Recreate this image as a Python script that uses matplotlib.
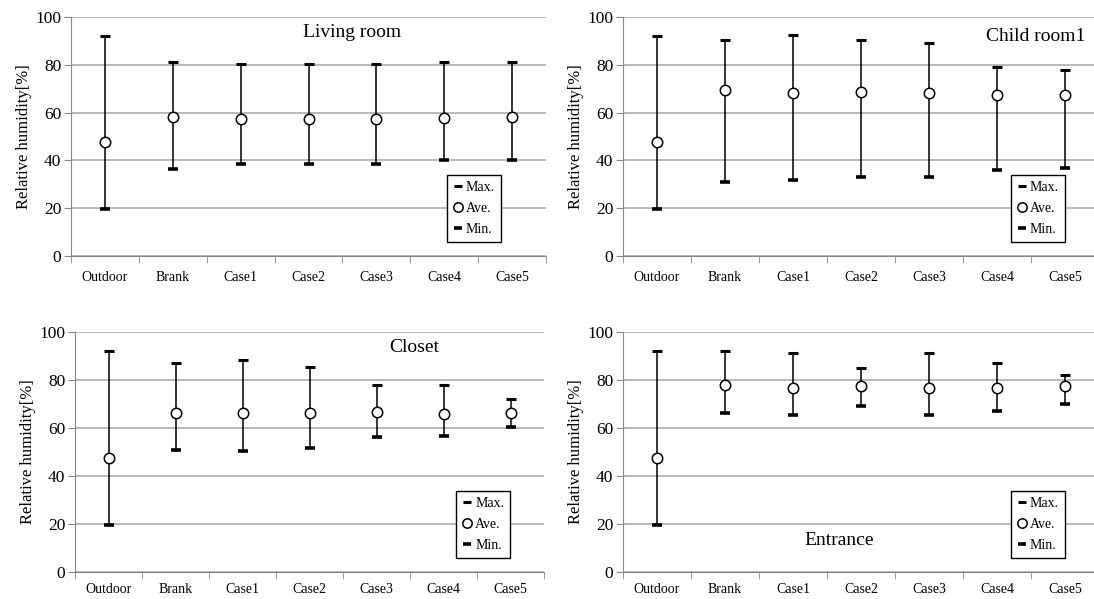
import matplotlib
matplotlib.use("Agg")
import matplotlib.pyplot as plt

plt.rcParams['font.family'] = ['Liberation Serif', 'DejaVu Serif']

cats = ["Outdoor", "Brank", "Case1", "Case2", "Case3", "Case4", "Case5"]

# Living room
lr_max = [92.0, 81.0, 80.5, 80.5, 80.5, 81.0, 81.0]
lr_ave = [47.5, 58.0, 57.2, 57.2, 57.2, 57.7, 58.0]
lr_min = [19.5, 36.3, 38.4, 38.4, 38.4, 40.1, 40.1]

# Child room1
cr_max = [92.0, 90.5, 92.5, 90.5, 89.2, 78.9, 77.7]
cr_ave = [47.5, 69.5, 68.1, 68.6, 68.1, 67.2, 67.5]
cr_min = [19.5, 30.8, 31.9, 32.9, 33.1, 36.0, 37.0]

# Closet
cl_max = [92.0, 87.0, 88.3, 85.6, 77.8, 77.8, 72.0]
cl_ave = [47.5, 66.4, 66.2, 66.4, 66.8, 65.8, 66.2]
cl_min = [19.5, 50.9, 50.5, 51.7, 56.3, 56.8, 60.3]

# Entrance
en_max = [92.0, 92.0, 91.2, 84.8, 91.2, 87.1, 82.0]
en_ave = [47.3, 78.0, 76.8, 77.7, 76.8, 76.6, 77.6]
en_min = [19.5, 66.1, 65.4, 69.1, 65.4, 66.9, 70.1]

W, H = 1094, 599
fig = plt.figure(figsize=(W / 100, H / 100), dpi=100)


def px_axes(l, r, t, b):
    return fig.add_axes([l / W, 1 - b / H, (r - l) / W, (b - t) / H])


def panel(ax, mx, av, mn, title, tpos, leg_x, xpad):
    x = list(range(len(cats)))
    ax.vlines(x, mn, mx, color='black', lw=1.1, zorder=3)
    ax.plot(x, mx, ls='none', marker='_', ms=7, mew=2.2, color='black', label='Max.', zorder=4)
    ax.plot(x, av, ls='none', marker='o', ms=7.5, mew=1.1, mfc='white', mec='black', label='Ave.', zorder=5)
    ax.plot(x, mn, ls='none', marker='_', ms=7, mew=2.6, color='black', label='Min.', zorder=4)
    ax.set_xlim(-0.5, len(cats) - 0.5)
    ax.set_ylim(0, 100)
    ax.set_yticks(range(0, 101, 20))
    ax.set_xticks(x)
    ax.set_xticklabels(cats, fontsize=10)
    ax.set_xticks([i - 0.5 for i in range(len(cats) + 1)], minor=True)
    ax.tick_params(axis='x', which='major', length=0, pad=xpad)
    ax.tick_params(axis='x', which='minor', length=5, color='#888888')
    ax.tick_params(axis='y', length=5, color='#888888', labelsize=12.5, pad=2)
    ax.grid(axis='y', color='#a6a6a6', lw=1.1)
    ax.set_axisbelow(True)
    for s in ['top', 'right']:
        ax.spines[s].set_visible(False)
    for s in ['left', 'bottom']:
        ax.spines[s].set_color('#888888')
    ax.set_ylabel("Relative humidity[%]", fontsize=12, labelpad=2)
    ax.text(tpos[0], tpos[1], title, transform=ax.transAxes, fontsize=14,
            ha='center', va='center')
    leg = ax.legend(loc='lower right', bbox_to_anchor=(leg_x, 0.03), fontsize=10,
                    frameon=True, fancybox=False, edgecolor='black', framealpha=1,
                    handlelength=0.7, handletextpad=0.2, labelspacing=0.55,
                    borderpad=0.45, markerscale=0.9)
    leg.get_frame().set_linewidth(1.0)


ax1 = px_axes(71, 546, 17, 256)
panel(ax1, lr_max, lr_ave, lr_min, "Living room", (0.592, 0.935), 0.92, 11)

ax2 = px_axes(623, 1099, 17, 256)
panel(ax2, cr_max, cr_ave, cr_min, "Child room1", (0.866, 0.92), 0.943, 11)

ax3 = px_axes(75, 544, 332, 572)
panel(ax3, cl_max, cl_ave, cl_min, "Closet", (0.723, 0.935), 0.943, 8)

ax4 = px_axes(623, 1099, 332, 572)
panel(ax4, en_max, en_ave, en_min, "Entrance", (0.454, 0.133), 0.943, 8)

fig.savefig("out.png", dpi=100)
